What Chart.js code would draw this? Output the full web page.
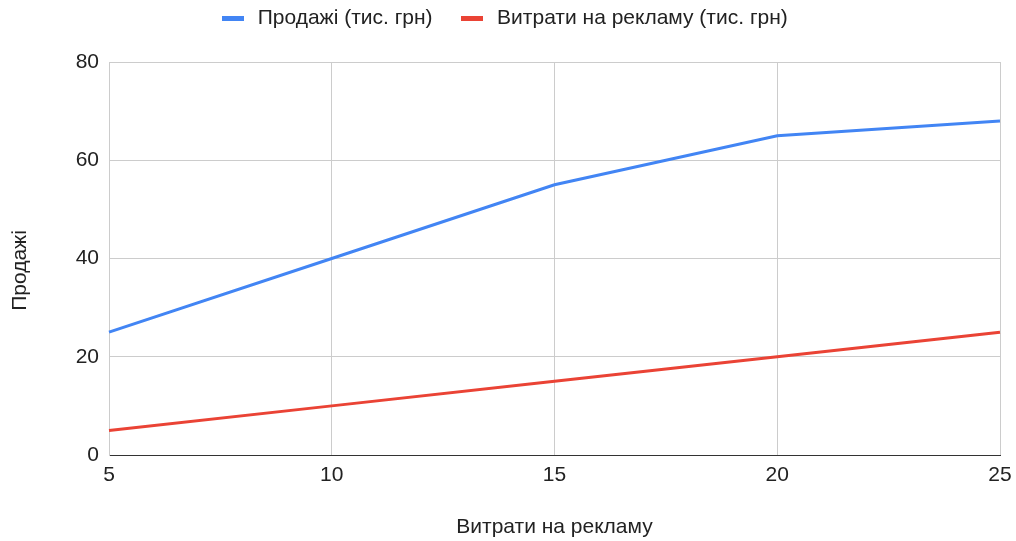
<!DOCTYPE html>
<html>
<head>
<meta charset="utf-8">
<script src="https://cdn.jsdelivr.net/npm/chart.js@4"></script>
<style>
  html, body { margin: 0; padding: 0; background: #fff; }
  #wrap { width: 1016px; height: 541px; }
</style>
</head>
<body>
<div id="wrap"><canvas id="c" width="1016" height="541"></canvas></div>
<script>
// Advertising spend (x) against sales and spend, thousands of UAH
const adSpend = ['5', '10', '15', '20', '25'];
const sales = [25, 40, 55, 65, 68];
const spend = [5, 10, 15, 20, 25];
const yTicks = [0, 20, 40, 60, 80];

const FONT = 'Liberation Sans, Arial, sans-serif';
const FONT_SIZE = 21;
const TEXT = '#222222';
const GRID = '#cccccc';
const BLUE = '#4285F4';
const RED = '#EA4335';

// Flat legend swatch drawn as a small bar
function swatch(color) {
  const c = document.createElement('canvas');
  c.width = 22;
  c.height = 5;
  const g = c.getContext('2d');
  g.fillStyle = color;
  g.fillRect(0, 0, 22, 5);
  return c;
}

// Fixed-height legend strip whose row sits near the top edge,
// and a y-axis title centred on the full canvas height
const layoutTweaks = {
  id: 'layoutTweaks',
  beforeLayout(chart) {
    const lg = chart.legend;
    if (lg && !lg._fixed) {
      const fit = lg.fit.bind(lg);
      lg.fit = function () { fit(); this.height = 62; };
      lg._fixed = true;
    }
  },
  afterLayout(chart) {
    const lg = chart.legend;
    if (lg) {
      lg.top -= 17; lg.bottom -= 17;
      lg.left += 3; lg.right += 3;
    }
    const y = chart.scales.y;
    if (y && !y._titleShifted) {
      const draw = y.drawTitle.bind(y);
      y.drawTitle = function () {
        const ctx = this.ctx;
        const shift = chart.height / 2 - (this.top + this.bottom) / 2;
        ctx.save();
        ctx.translate(0, shift);
        draw();
        ctx.restore();
      };
      y._titleShifted = true;
    }
  }
};

new Chart(document.getElementById('c'), {
  type: 'line',
  data: {
    labels: adSpend,
    datasets: [
      {
        label: 'Продажі (тис. грн)',
        data: sales,
        borderColor: BLUE,
        backgroundColor: BLUE,
        borderWidth: 3,
        pointRadius: 0,
        pointStyle: swatch(BLUE),
        tension: 0
      },
      {
        label: 'Витрати на рекламу (тис. грн)',
        data: spend,
        borderColor: RED,
        backgroundColor: RED,
        borderWidth: 3,
        pointRadius: 0,
        pointStyle: swatch(RED),
        tension: 0
      }
    ]
  },
  options: {
    responsive: false,
    animation: false,
    layout: { padding: { top: 0, right: 16, bottom: 0, left: 0 } },
    plugins: {
      tooltip: { enabled: false },
      legend: {
        position: 'top',
        labels: {
          usePointStyle: true,
          pointStyleWidth: 29,
          boxHeight: 5,
          padding: 25,
          color: TEXT,
          font: { family: FONT, size: FONT_SIZE }
        }
      }
    },
    scales: {
      x: {
        offset: false,
        grid: { color: GRID, lineWidth: 1, drawTicks: false },
        border: { color: '#333333', width: 1 },
        ticks: { color: TEXT, font: { family: FONT, size: FONT_SIZE }, padding: 8, maxRotation: 0 },
        title: {
          display: true,
          text: 'Витрати на рекламу',
          color: TEXT,
          font: { family: FONT, size: FONT_SIZE },
          padding: { top: 0, bottom: 1 }
        },
        afterFit: (s) => {
          s.height = 86;
          s.paddingLeft = 0;
          s.paddingRight = 0;
        }
      },
      y: {
        min: 0,
        max: 80,
        afterBuildTicks: (s) => { s.ticks = yTicks.map(v => ({ value: v })); },
        grid: {
          color: (ctx) => (ctx.tick && ctx.tick.value === 0 ? 'rgba(0,0,0,0)' : GRID),
          lineWidth: 1,
          drawTicks: false
        },
        border: { color: GRID, width: 1 },
        ticks: { color: TEXT, font: { family: FONT, size: FONT_SIZE }, padding: 10 },
        title: {
          display: true,
          text: 'Продажі',
          color: TEXT,
          font: { family: FONT, size: FONT_SIZE },
          padding: { top: 8, bottom: 0 }
        },
        afterFit: (s) => { s.width = 109; }
      }
    }
  },
  plugins: [layoutTweaks]
});
</script>
</body>
</html>
